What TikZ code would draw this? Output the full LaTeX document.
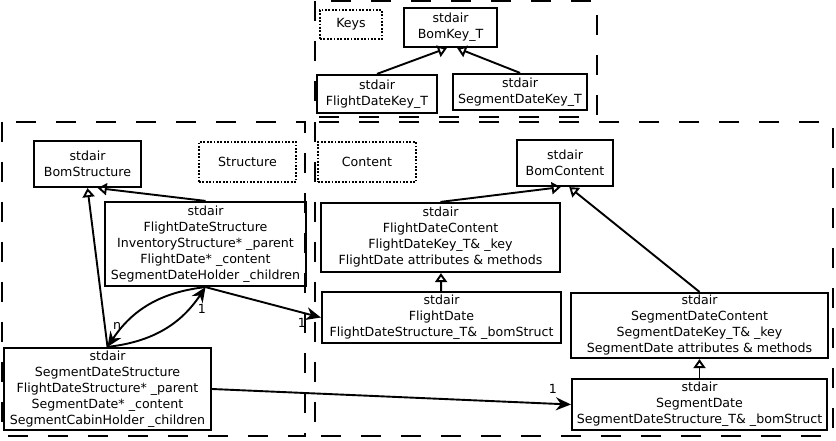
\documentclass[tikz,border=0pt]{standalone}
\usepackage{fontspec}
\setmainfont{DejaVu Sans}
\usetikzlibrary{arrows.meta}

\begin{document}
\begin{tikzpicture}[x=1pt, y=-1pt,
    every node/.style={font=\fontsize{12.6}{16}\selectfont, inner sep=0pt, align=center},
    cls/.style={draw, line width=2.2pt},
    tag/.style={draw, line width=2pt, dash pattern=on 1.8pt off 1.6pt},
    frame/.style={line width=2.8pt, dash pattern=on 20pt off 20pt},
    isa/.style={line width=1.9pt, -{Triangle[open, length=9pt, width=12pt]}},
    has/.style={line width=1.9pt, -{Stealth[length=15pt, width=13pt]}}]
            \useasboundingbox (0,0) rectangle (836,440);

            \draw[frame] (315,1) rectangle (597,117);
            \draw[frame] (2,122) rectangle (305,436);
            \draw[frame] (315,122) rectangle (833,436);

            \node[tag, minimum width=62pt, minimum height=29pt] (keys) at (351,24.5) {Keys};
            \node[cls, minimum width=93pt, minimum height=39pt] (bomkey) at (450.5,27.5) {stdair\\BomKey\_T};
            \node[cls, minimum width=120pt, minimum height=38pt] (fdkey) at (377,94) {stdair\\FlightDateKey\_T};
            \node[cls, minimum width=134pt, minimum height=36pt] (sdkey) at (520,92) {stdair\\SegmentDateKey\_T};

            \node[cls, minimum width=107pt, minimum height=46pt] (bomstruct) at (87.5,164) {stdair\\BomStructure};
            \node[tag, minimum width=97pt, minimum height=40pt] (structure) at (247.5,162) {Structure};
            \node[cls, minimum width=201pt, minimum height=84pt] (fdstruct) at (205.5,244) {stdair\\FlightDateStructure\\InventoryStructure* \_parent\\FlightDate* \_content\\SegmentDateHolder \_children};
            \node[cls, minimum width=207pt, minimum height=82pt] (sdstruct) at (107.5,389) {stdair\\SegmentDateStructure\\FlightDateStructure* \_parent\\SegmentDate* \_content\\SegmentCabinHolder \_children};

            \node[tag, minimum width=98pt, minimum height=40pt] (content) at (367,162) {Content};
            \node[cls, minimum width=96pt, minimum height=46pt] (bomcontent) at (565,163) {stdair\\BomContent};
            \node[cls, minimum width=239pt, minimum height=69pt] (fdcontent) at (440.5,237.5) {stdair\\FlightDateContent\\FlightDateKey\_T\& \_key\\FlightDate attributes \& methods};
            \node[cls, minimum width=239pt, minimum height=51pt] (fddate) at (441.5,317.5) {stdair\\FlightDate\\FlightDateStructure\_T\& \_bomStruct};
            \node[cls, minimum width=257pt, minimum height=65pt] (sdcontent) at (699.5,325.5) {stdair\\SegmentDateContent\\SegmentDateKey\_T\& \_key\\SegmentDate attributes \& methods};
            \node[cls, minimum width=255pt, minimum height=51pt] (sddate) at (699.5,404.5) {stdair\\SegmentDate\\SegmentDateStructure\_T\& \_bomStruct};

            \node (n) at (117,326) {n};
            \node (fd1) at (202,309) {1};
            \node (fdd1) at (302,323) {1};
            \node (sdd1) at (553,389) {1};

            \draw[isa] (fdkey.north) to (bomkey.-100); \draw[isa] (sdkey.north) to (bomkey.-72);
            \draw[isa] (fdstruct.north) to (bomstruct.-67); \draw[isa] (sdstruct.north) to (bomstruct.south);
            \draw[isa] (fdcontent.north) to (bomcontent.-100); \draw[isa] (sdcontent.north) to (bomcontent.-80);
            \draw[isa] (fddate) to (fdcontent); \draw[isa] (sddate) to (sdcontent);
            \draw[has] (fdstruct.south) to[bend right=25] (sdstruct.north); \draw[has] (sdstruct.north) to[bend right=25] (fdstruct.south);
            \draw[has] (fdstruct.south) to (fddate.west); \draw[has] (sdstruct.east) to (sddate.west);
        \end{tikzpicture}
\end{document}
